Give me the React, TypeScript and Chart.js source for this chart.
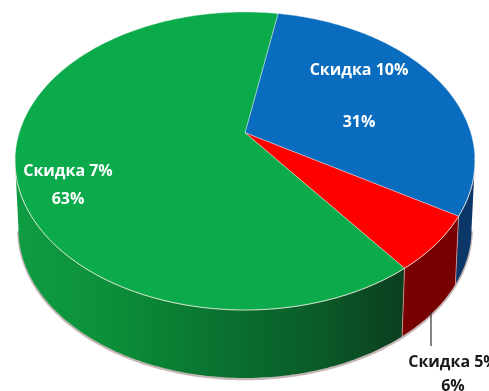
import React, { useEffect, useRef } from "react";
import { Chart, registerables } from "chart.js";

Chart.register(...registerables);

// Shares of each discount tier, clockwise from the first slice
const discountLabels = ["Скидка 10%", "Скидка 5%", "Скидка 7%"];
const discountShares = [31, 6, 63];
const shareLabels = ["31%", "6%", "63%"];
const topColors = ["#0a6cbe", "#fe0000", "#0bab4b"];

// Shape of the tilted disc on the canvas
const DISC = { cx: 245, cy: 161, rx: 230, ry: 149, apexShift: -0.19, depth: 68, baseScale: 0.985 };

// Perspective mapping of a rim angle onto the ellipse (the apex sits behind the ellipse centre)
function project(angle: number) {
  const u = Math.cos(angle);
  const v = Math.sin(angle);
  const b = DISC.apexShift;
  const w = 1 + b * v;
  return { u: (u * Math.sqrt(1 - b * b)) / w, v: (v + b) / w };
}

function rimPoints(start: number, end: number) {
  const steps = Math.max(8, Math.ceil((end - start) * 60));
  const points: { u: number; v: number }[] = [];
  for (let i = 0; i <= steps; i++) points.push(project(start + ((end - start) * i) / steps));
  return points;
}

const topX = (p: { u: number }) => DISC.cx + DISC.rx * p.u;
const topY = (p: { v: number }) => DISC.cy + DISC.ry * p.v;
const baseX = (p: { u: number }) => DISC.cx + DISC.rx * DISC.baseScale * p.u;
const baseY = (p: { v: number }) => DISC.cy + DISC.depth + DISC.ry * p.v;

function wallPaint(ctx: CanvasRenderingContext2D, index: number) {
  const g = ctx.createLinearGradient(15, 0, 475, 0);
  if (index === 2) {
    g.addColorStop(0, "#0f9c42");
    g.addColorStop(0.2, "#0c9039");
    g.addColorStop(0.42, "#0a7531");
    g.addColorStop(0.65, "#0a5c29");
    g.addColorStop(0.85, "#0b3e1e");
    g.addColorStop(1, "#0b3e1e");
    return g;
  }
  return index === 0 ? "#0b3768" : "#780000";
}

const extrudedPie = {
  id: "extrudedPie",
  beforeDatasetsDraw(chart: Chart) {
    const ctx = chart.ctx;
    const arcs = chart.getDatasetMeta(0).data as any[];
    ctx.save();

    // Soft edge under the base of the disc
    const under = rimPoints(0, Math.PI).filter((p) => p.v >= 0);
    ctx.beginPath();
    under.forEach((p, i) => (i ? ctx.lineTo(baseX(p), baseY(p) + 1) : ctx.moveTo(baseX(p), baseY(p) + 1)));
    ctx.strokeStyle = "rgba(150,120,120,0.55)";
    ctx.lineWidth = 2.5;
    ctx.stroke();

    // Side walls
    arcs.forEach((arc, index) => {
      const { startAngle, endAngle } = arc.getProps(["startAngle", "endAngle"], true);
      const pts = rimPoints(startAngle, endAngle).filter((p) => p.v >= -0.01);
      if (pts.length < 2) return;
      ctx.beginPath();
      pts.forEach((p, i) => (i ? ctx.lineTo(topX(p), topY(p)) : ctx.moveTo(topX(p), topY(p))));
      [...pts].reverse().forEach((p) => ctx.lineTo(baseX(p), baseY(p)));
      ctx.closePath();
      ctx.fillStyle = wallPaint(ctx, index);
      ctx.fill();
    });

    // Pale seams where the walls meet
    ctx.strokeStyle = "rgba(235,170,170,0.7)";
    ctx.lineWidth = 1;
    arcs.slice(0, 2).forEach((arc) => {
      const p = project(arc.getProps(["endAngle"], true).endAngle);
      ctx.beginPath();
      ctx.moveTo(topX(p), topY(p));
      ctx.lineTo(baseX(p), baseY(p));
      ctx.stroke();
    });

    // Top faces
    const apex = project(1e9 * 0 + Math.PI / 2);
    const apexPoint = { x: DISC.cx, y: DISC.cy + DISC.ry * DISC.apexShift };
    void apex;
    arcs.forEach((arc, index) => {
      const { startAngle, endAngle } = arc.getProps(["startAngle", "endAngle"], true);
      const pts = rimPoints(startAngle, endAngle);
      ctx.beginPath();
      ctx.moveTo(apexPoint.x, apexPoint.y);
      pts.forEach((p) => ctx.lineTo(topX(p), topY(p)));
      ctx.closePath();
      ctx.fillStyle = topColors[index];
      ctx.fill();
      ctx.strokeStyle = "rgba(255,255,255,0.45)";
      ctx.lineWidth = 0.8;
      ctx.stroke();
    });

    // Light rim along the front edge
    const rim = rimPoints(0, Math.PI * 1.02).filter((p) => p.v >= -0.03);
    ctx.beginPath();
    rim.forEach((p, i) => (i ? ctx.lineTo(topX(p), topY(p)) : ctx.moveTo(topX(p), topY(p))));
    ctx.strokeStyle = "rgba(255,235,225,0.6)";
    ctx.lineWidth = 1;
    ctx.stroke();

    ctx.restore();
    return false;
  },
  afterDraw(chart: Chart) {
    const ctx = chart.ctx;
    ctx.save();

    // Leader line for the narrow slice
    ctx.beginPath();
    ctx.moveTo(431, 312);
    ctx.lineTo(431, 346);
    ctx.strokeStyle = "#333333";
    ctx.lineWidth = 1.2;
    ctx.stroke();

    const spots = [
      { name: [359, 70], share: [359, 122], color: "#ffffff" },
      { name: [453, 362], share: [453, 386], color: "#1a1a1a" },
      { name: [68, 171], share: [68, 199], color: "#ffffff" },
    ];
    ctx.textAlign = "center";
    ctx.textBaseline = "middle";
    ctx.font = 'bold 16px "Liberation Sans Narrow", "Open Sans", sans-serif';
    spots.forEach((s, i) => {
      ctx.fillStyle = s.color;
      ctx.fillText(discountLabels[i], s.name[0], s.name[1]);
      ctx.fillText(shareLabels[i], s.share[0], s.share[1]);
    });
    ctx.restore();
  },
};

export default function App() {
  const ref = useRef<HTMLCanvasElement>(null);
  useEffect(() => {
    const chart = new Chart(ref.current!, {
      type: "pie",
      data: {
        labels: discountLabels,
        datasets: [{ data: discountShares, backgroundColor: topColors, borderWidth: 0 }],
      },
      options: {
        animation: false,
        responsive: false,
        rotation: 10,
        plugins: { legend: { display: false }, tooltip: { enabled: false } },
      },
      plugins: [extrudedPie],
    } as any);
    return () => chart.destroy();
  }, []);
  return (
    <div style={{ position: "absolute", left: 0, top: 0, width: 489, height: 391, background: "#fff" }}>
      <canvas ref={ref} width={489} height={391} style={{ display: "block" }} />
    </div>
  );
}
